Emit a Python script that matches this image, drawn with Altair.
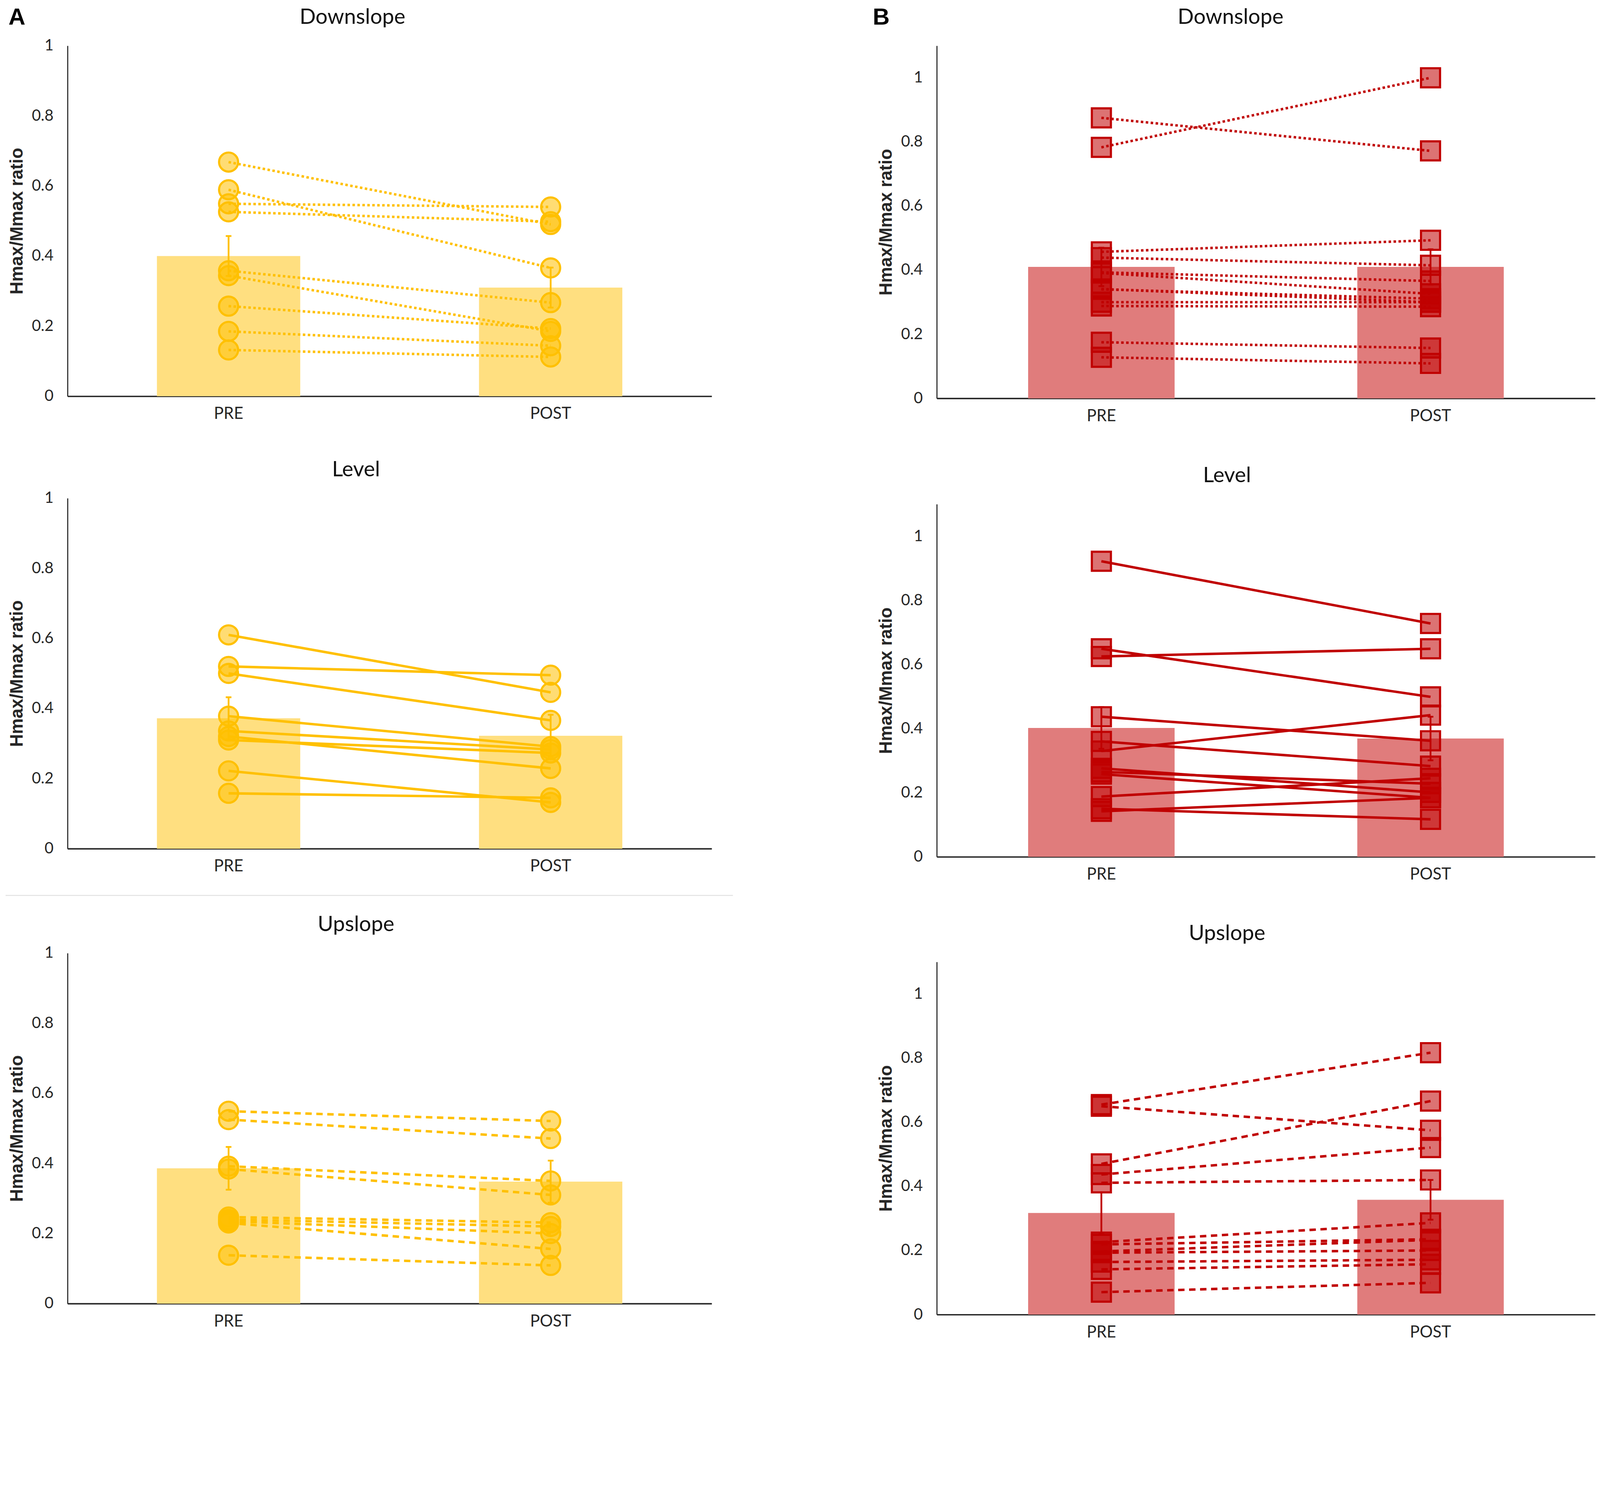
import altair as alt
import pandas as pd

phases = ["PRE", "POST"]
y_ticks = [0, 0.2, 0.4, 0.6, 0.8, 1.0]

# ---- Panel A (yellow, circles) ----
a_down_pre = [0.668, 0.589, 0.549, 0.526, 0.358, 0.344, 0.257, 0.185, 0.132]
a_down_post = [0.490, 0.366, 0.540, 0.498, 0.267, 0.185, 0.193, 0.144, 0.112]
a_down_bar = [0.400, 0.310]
a_down_se = [0.057, 0.057]

a_level_pre = [0.610, 0.520, 0.500, 0.378, 0.336, 0.320, 0.310, 0.222, 0.158]
a_level_post = [0.446, 0.495, 0.366, 0.291, 0.283, 0.229, 0.273, 0.132, 0.145]
a_level_bar = [0.372, 0.322]
a_level_se = [0.060, 0.060]

a_up_pre = [0.549, 0.525, 0.392, 0.384, 0.247, 0.240, 0.235, 0.230, 0.138]
a_up_post = [0.521, 0.471, 0.350, 0.310, 0.231, 0.220, 0.200, 0.156, 0.109]
a_up_bar = [0.386, 0.348]
a_up_se = [0.061, 0.060]

# ---- Panel B (red, squares) ----
b_down_pre = [0.875, 0.783, 0.457, 0.439, 0.393, 0.391, 0.341, 0.340, 0.300, 0.288, 0.175, 0.128]
b_down_post = [0.772, 1.000, 0.493, 0.415, 0.366, 0.326, 0.300, 0.311, 0.300, 0.286, 0.157, 0.109]
b_down_bar = [0.410, 0.410]
b_down_se = [0.060, 0.055]

b_level_pre = [0.922, 0.649, 0.625, 0.437, 0.360, 0.330, 0.276, 0.265, 0.258, 0.188, 0.150, 0.142]
b_level_post = [0.728, 0.499, 0.649, 0.362, 0.283, 0.442, 0.201, 0.228, 0.184, 0.245, 0.117, 0.184]
b_level_bar = [0.402, 0.369]
b_level_se = [0.065, 0.068]

b_up_pre = [0.655, 0.650, 0.470, 0.437, 0.411, 0.226, 0.219, 0.197, 0.193, 0.164, 0.141, 0.070]
b_up_post = [0.817, 0.575, 0.666, 0.521, 0.420, 0.286, 0.235, 0.233, 0.200, 0.171, 0.157, 0.099]
b_up_bar = [0.317, 0.358]
b_up_se = [0.064, 0.062]

YELLOW = "#FFC000"
YELLOW_BAR = "#FFDF80"
RED = "#C00000"
RED_BAR = "#E07C7C"

DOT = [7, 7]
DASH = [18, 13]


def panel(title, pre, post, means, ses, color, bar_color, shape, dash,
          ymax, width, height, title_dx, letter=None, letter_pos=None, sep=False):
    n = len(pre)
    subj = pd.DataFrame({
        "subject": list(range(n)) * 2,
        "phase": ["PRE"] * n + ["POST"] * n,
        "value": list(pre) + list(post),
    })
    bars = pd.DataFrame({
        "phase": phases,
        "mean": means,
        "lo": [m - s for m, s in zip(means, ses)],
        "hi": [m + s for m, s in zip(means, ses)],
    })
    x = alt.X("phase:N", sort=phases,
              scale=alt.Scale(domain=phases, paddingInner=0, paddingOuter=0),
              axis=alt.Axis(title=None, labelAngle=0, ticks=False,
                            labelPadding=28, labelFontSize=46, domainWidth=4))
    yscale = alt.Scale(domain=[0, ymax], nice=False, zero=True)
    yaxis = alt.Axis(title="Hmax/Mmax ratio", values=y_ticks, format="~g",
                     grid=False, ticks=False)

    bar = alt.Chart(bars).mark_bar(color=bar_color, width=alt.RelativeBandSize(0.445)).encode(
        x=x, y=alt.Y("mean:Q", scale=yscale, axis=yaxis))
    err = alt.Chart(bars).mark_rule(color=color, strokeWidth=5).encode(
        x=x, y=alt.Y("lo:Q", scale=yscale, axis=yaxis), y2="hi:Q")
    caps = alt.Chart(bars).transform_fold(["lo", "hi"], as_=["k", "v"]).mark_tick(
        color=color, thickness=5, size=16, opacity=1).encode(
        x=x, y=alt.Y("v:Q", scale=yscale, axis=yaxis))
    line_kw = dict(color=color, strokeWidth=7)
    if dash is not None:
        line_kw["strokeDash"] = dash
        line_kw["strokeCap"] = "butt"
    lines = alt.Chart(subj).mark_line(**line_kw).encode(
        x=x, y=alt.Y("value:Q", scale=yscale, axis=yaxis), detail="subject:N")
    pts = alt.Chart(subj).mark_point(
        shape=shape, size=2900, filled=True, color=color, fillOpacity=0.55,
        stroke=color, strokeOpacity=1, strokeWidth=6, opacity=1).encode(
        x=x, y=alt.Y("value:Q", scale=yscale, axis=yaxis))
    ttl = alt.Chart(pd.DataFrame({"t": [title]})).mark_text(
        font="Lato", fontSize=60, fontWeight="normal", align="center",
        baseline="middle", color="#111111").encode(
        text="t:N", x=alt.value(width / 2 + title_dx), y=alt.value(-80))
    layers = [bar, err, caps, lines, pts, ttl]
    if letter is not None:
        lab = alt.Chart(pd.DataFrame({"t": [letter]})).mark_text(
            font="Liberation Sans", fontSize=66, fontWeight="bold",
            align="center", baseline="middle", color="#000").encode(
            text="t:N", x=alt.value(letter_pos[0]), y=alt.value(letter_pos[1]))
        layers.append(lab)
    if sep:
        rule = alt.Chart(pd.DataFrame({"a": [0]})).mark_rule(
            color="#E4E4E4", strokeWidth=3).encode(
            x=alt.value(-175), x2=alt.value(1880), y=alt.value(-163))
        layers.append(rule)
    return alt.layer(*layers).properties(width=width, height=height)


AW, AH = 1820, 990
BW, BH = 1860, 996

colA = alt.vconcat(
    alt.vconcat(
        panel("Downslope", a_down_pre, a_down_post, a_down_bar, a_down_se, YELLOW, YELLOW_BAR,
              "circle", DOT, 1.0, AW, AH, -105, letter="A", letter_pos=(-143, -80)),
        panel("Level", a_level_pre, a_level_post, a_level_bar, a_level_se, YELLOW, YELLOW_BAR,
              "circle", None, 1.0, AW, AH, -95),
        spacing=105,
    ),
    panel("Upslope", a_up_pre, a_up_post, a_up_bar, a_up_se, YELLOW, YELLOW_BAR,
          "circle", DASH, 1.0, AW, AH, -95, sep=True),
    spacing=57,
)
colB = alt.vconcat(
    alt.vconcat(
        panel("Downslope", b_down_pre, b_down_post, b_down_bar, b_down_se, RED, RED_BAR,
              "square", DOT, 1.1, BW, BH, -100, letter="B", letter_pos=(-157, -80)),
        panel("Level", b_level_pre, b_level_post, b_level_bar, b_level_se, RED, RED_BAR,
              "square", None, 1.1, BW, BH, -110),
        spacing=116,
    ),
    panel("Upslope", b_up_pre, b_up_post, b_up_bar, b_up_se, RED, RED_BAR,
          "square", DASH, 1.1, BW, BH, -110),
    spacing=114,
)

chart = alt.hconcat(colA, colB, spacing=393).properties(
    padding={"top": -170, "bottom": -180, "left": 5, "right": 5}
).configure_view(stroke=None).configure_axis(
    labelFont="Lato", labelFontSize=44, labelColor="#262626",
    domainColor="#262626", domainWidth=3,
    titleFont="Liberation Sans", titleFontSize=50, titleFontWeight="bold",
    titleColor="#262626",
).configure_axisY(labelPadding=40, titlePadding=16)

chart.save("out.html", embed_options={"renderer": "svg", "actions": False})
